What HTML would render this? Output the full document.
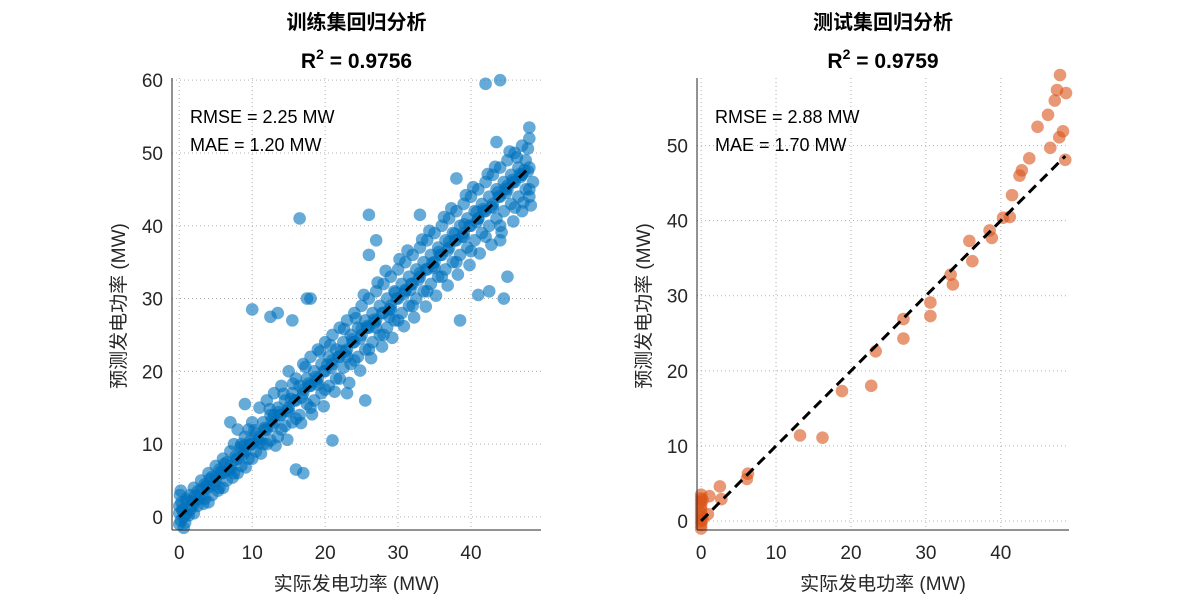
<!DOCTYPE html>
<html><head><meta charset="utf-8">
<style>
body{margin:0;background:#fff;}
svg{display:block;font-family:"Liberation Sans","Noto Sans CJK SC",sans-serif;}
</style></head>
<body>
<svg id="chart" width="1200" height="600"></svg>
<script>
// ---- data ----
const trainActual = [0,0,0,0.3,0.2,0.5,0.1,0.4,1,1,1.5,1.5,2,2,2.5,2.5,3,3,3.5,3.5,4,4,4.5,4.5,5,5,5.5,5.5,6,6,6.5,6.5,7,7,7.5,7.5,8,8,8.5,8.5,9,9,9.5,9.5,10,10,10.5,10.5,11,11,11.5,11.5,12,12,12.5,12.5,13,13,13.5,13.5,14,14,14.5,14.5,15,15,15.5,15.5,16,16,16.5,16.5,17,17,17.5,17.5,18,18,18.5,18.5,19,19,19.5,19.5,20,20,20.5,20.5,21,21,21.5,21.5,22,22,22.5,22.5,23,23,23.5,23.5,24,24,24.5,24.5,25,25,25.5,25.5,26,26,26.5,26.5,27,27,27.5,27.5,28,28,28.5,28.5,29,29,29.5,29.5,30,30,30.5,30.5,31,31,31.5,31.5,32,32,32.5,32.5,33,33,33.5,33.5,34,34,34.5,34.5,35,35,35.5,35.5,36,36,36.5,36.5,37,37,37.5,37.5,38,38,38.5,38.5,39,39,39.5,39.5,40,40,40.5,40.5,41,41,41.5,41.5,42,42,42.5,42.5,43,43,43.5,43.5,44,44,44.5,44.5,45,45,45.5,45.5,46,46,46.5,46.5,47,47,47.5,47.5,48,48,48.5,48,47,
2,4,6,8,10,12,14,16,18,20,22,24,26,28,30,32,34,36,38,40,42,44,46,48,
16.5,26,10,12.5,15.5,17.5,18,21,16,17,38,43.5,48,42,44,44,45,41,42.5,44.5,26,27,38.5,33,13.5,23,25.5,7,9,
1,3,5,7,9,11,13,15,17,19,21,23,25,27,29,31,33,35,37,39,41,43,45,47,
0.6,1.8,2.8,3.8,4.8,5.8,6.8,7.8,8.8,9.8,10.8,11.8,12.8,13.8,14.8,15.8,16.8,17.8,18.8,19.8,20.8,21.8,22.8,23.8,24.8,25.8,26.8,27.8,28.8,29.8,30.8,31.8,32.8,33.8,34.8,35.8,36.8,37.8,38.8,39.8,40.8,41.8,42.8,43.8,44.8,45.8,46.8,47.8,
0.8,1.3,2.2,3.3,4.2,5.3,6.2,7.3,8.4,9.1,10.3,11.2,12.4,13.2,14.3,14.8,15.6,16.7,17.3,18.2,19.3,19.8,20.7,21.3,22.6,23.3,24.2,24.8,25.3,26.3,27.2,27.8,28.3,29.2,30.2,30.8,31.3,32.2,33.3,33.8,34.3,35.2,36.3,36.8,37.3,38.2,39.3,39.8,40.3,41.2,42.3,42.8,43.3,44.2,45.3,45.8,46.3,47.2,47.8,48.2,
28.8,29.6,31.7,34.7,35.6,37.8,39.1,40.8,41.7,43.7,44.7,45.7,46.7,47.3,26.7,25.7,23.7,22.2,20.3,18.7,17.7,15.3,13.7,12.7,11.7,9.7,8.7,7.7,5.7,3.7,1.7,0.6,0.2];
const trainPred = [0.5,-1,1.5,2,-0.5,0.8,3,1,0.5,2.5,1,3,2,4,1.5,3.5,3,5,2.5,4.5,4,6,3,5.5,5,7,4,6.5,6,8,5,7.5,7,9,6,10,8,12,7,10,9,11,8,12,10,13,9,11.5,11,15,10,13,12,16,10.5,14,13,17,11,15,14,18,12.5,16,15,20,13,17,16,19,14,18,17,21,15.5,19,18,22,16,20,19,23,17,21,20,24,18,22,21,25,19,23,22,26,20.5,24,23,27,21,25,24,28,22,26,25,29,23,27,26,30,24,28,27,31,25,29,28,32,26,30,29,33,27,31,30,34,28,32,31,35,29,33,32,36,30,34,33,37,31,35,34,38,32,36,35,39,33,37,36,40,34,38,37,41,35,39,38,42,36,40,39,43,37,41,40,44,38,42,41,45,39,43,42,46,40,44,43,47,41,45,44,48,42,46,45,49,43,47,46,50,44,48,47,51,45,49,48,52,46,44,42,
0.5,2,4,6,8,10,12,13.5,15,17.5,19,21.5,23,25,27,29,31,33,35,36.5,38.5,40,42.5,45,
41,41.5,28.5,27.5,27,30,30,10.5,6.5,6,46.5,51.5,53.5,59.5,60,38,33,30.5,31,30,36,38,27,41.5,28,17,16,13,15.5,
2.2,3.8,5.5,6.5,9.8,10.2,14,14.5,17.5,18.2,21.5,22,25.8,26,28.5,31.2,33.5,34.2,37.8,38.5,41,42.5,45.5,47,
0,1.5,2.5,4.2,4.5,6,6.5,7.9,8.6,10,10.6,12,12.5,14,14.6,16,16.4,18,18.6,20,20.5,22,22.7,24,24.5,26,26.7,28,28.5,30,30.6,32,32.6,34,34.5,36,36.6,38,38.5,40,40.5,42,42.6,44,44.5,46,46.7,47.5,
-0.8,0.2,2.9,1.8,5.2,3.6,7.3,5.4,9.6,6.8,11.9,8.7,14.8,9.8,16.9,10.6,18.3,12.9,20.6,14.1,22.7,15.2,23.6,17.2,25.8,18.4,27.3,20.1,30.5,21.8,32.2,23.4,33.8,24.6,35.4,26.2,36.6,27.4,38.1,28.9,39.3,30.4,41.2,31.8,42.4,33.3,44.2,34.6,45.3,36.2,47.1,37.4,48.1,39.1,50.2,40.6,49.4,43.2,50.6,42.8,
27.5,30.8,31.2,34.9,36.4,38.9,40.2,41.9,42.3,44.6,45.1,46.3,47.1,47.6,27.1,26.2,24.4,22.8,20.9,19.2,18.3,16.2,14.4,13.3,12.2,10.4,9.1,8.3,6.2,4.3,2.2,-1.5,3.6];
const testActual = [47.9,47.5,48.7,47.2,46.3,44.9,48.3,47.8,46.6,48.6,43.8,42.8,42.5,41.5,41.2,40.3,38.5,38.8,35.8,36.2,33.3,33.6,30.6,30.6,27,27,23.3,22.7,18.8,16.2,13.2,6.25,6.1,2.5,2.7,1.1,0.9,0,0,0,0,0,0,0,0,0,0,0.2,0.2];
const testPred = [59.4,57.4,57,56,54.1,52.5,51.9,51.1,49.7,48.1,48.3,46.7,46,43.4,40.5,40.4,38.7,37.7,37.3,34.6,32.8,31.5,29.1,27.3,26.9,24.3,22.6,18,17.3,11.1,11.4,6.3,5.6,4.6,2.9,3.3,0.9,3.5,3,2.5,2,1.5,1,0.5,0,-0.5,-1,2.8,0.2];
const xTicks = [0,10,20,30,40];
const yTicksTrain = [0,10,20,30,40,50,60];
const yTicksTest = [0,10,20,30,40,50];

const NS="http://www.w3.org/2000/svg";
const svg=document.getElementById('chart');
function mk(tag,attrs,parent){const e=document.createElementNS(NS,tag);for(const k in attrs)e.setAttribute(k,attrs[k]);(parent||svg).appendChild(e);return e;}

function panel(cfg){
  const g=mk('g',{});
  
  
  const {L,R,T,B,xmin,xmax,ymin,ymax}=cfg;
  const sx=v=>L+(v-xmin)/(xmax-xmin)*(R-L);
  const sy=v=>B-(v-ymin)/(ymax-ymin)*(B-T);
  xTicks.forEach(t=>{const l=mk('line',{x1:sx(t),x2:sx(t),y1:T,y2:B,stroke:'#b0b0b0','stroke-width':1,'stroke-dasharray':'1,3'},g);
    });
  cfg.yTicks.forEach(t=>{const l=mk('line',{x1:L,x2:R,y1:sy(t),y2:sy(t),stroke:'#b0b0b0','stroke-width':1,'stroke-dasharray':'1,3'},g);
    });
  for(let i=0;i<cfg.xs.length;i++){
    const c=mk('circle',{cx:sx(cfg.xs[i]),cy:sy(cfg.ys[i]),r:6.3,fill:cfg.color,'fill-opacity':0.6},g);
    
    
  }
  const fl=mk('line',{x1:sx(0),y1:sy(0),x2:sx(cfg.lineEnd),y2:sy(cfg.lineEnd),stroke:'#000','stroke-width':3,'stroke-dasharray':'10,6'},g);
  
  const ax=mk('line',{x1:L,x2:R,y1:B,y2:B,stroke:'#262626','stroke-width':1},g);
  
  const ay=mk('line',{x1:L,x2:L,y1:T,y2:B,stroke:'#262626','stroke-width':1},g);
  
  xTicks.forEach(t=>{const tx=mk('text',{x:sx(t),y:B+29,'text-anchor':'middle','font-size':19,fill:'#262626'},g);tx.textContent=t;
    });
  cfg.yTicks.forEach(t=>{const tx=mk('text',{x:L-9,y:sy(t)+7,'text-anchor':'end','font-size':19,fill:'#262626'},g);tx.textContent=t;
    });
  const cx=(L+R)/2;
  const xl=mk('text',{x:cx,y:590,'text-anchor':'middle','font-size':19,fill:'#262626'},g);xl.textContent='实际发电功率 (MW)';
  
  const yl=mk('text',{x:0,y:0,'text-anchor':'middle','font-size':19,fill:'#262626',transform:`translate(${L-47},${(T+B)/2+2}) rotate(-90)`},g);yl.textContent='预测发电功率 (MW)';
  
  const t1=mk('text',{x:cx,y:29,'text-anchor':'middle','font-size':20,'font-weight':'bold',fill:'#000'},g);t1.textContent=cfg.title;
  
  const t2=mk('text',{x:cx,y:68,'text-anchor':'middle','font-size':21,'font-weight':'bold',fill:'#000'},g);
  t2.innerHTML='R<tspan dy="-9" font-size="14">2</tspan><tspan dy="9"> = '+cfg.r2+'</tspan>';
  
  const m1=mk('text',{x:L+18,y:123,'font-size':18,fill:'#000'},g);m1.textContent='RMSE = '+cfg.rmse+' MW';
  
  const m2=mk('text',{x:L+18,y:151,'font-size':18,fill:'#000'},g);m2.textContent='MAE = '+cfg.mae+' MW';
  
}
panel({name:'train-panel',L:172,R:541,T:78,B:530,xmin:-1,xmax:49.6,ymin:-1.8,ymax:60.3,yTicks:yTicksTrain,xs:trainActual,ys:trainPred,color:'#0072BD',lineEnd:48,title:'训练集回归分析',r2:'0.9756',rmse:'2.25',mae:'1.20'});
panel({name:'test-panel',L:697,R:1069,T:78,B:530,xmin:-0.55,xmax:49.1,ymin:-1.2,ymax:59,yTicks:yTicksTest,xs:testActual,ys:testPred,color:'#D95319',lineEnd:48.6,title:'测试集回归分析',r2:'0.9759',rmse:'2.88',mae:'1.70'});
</script>
</body></html>
